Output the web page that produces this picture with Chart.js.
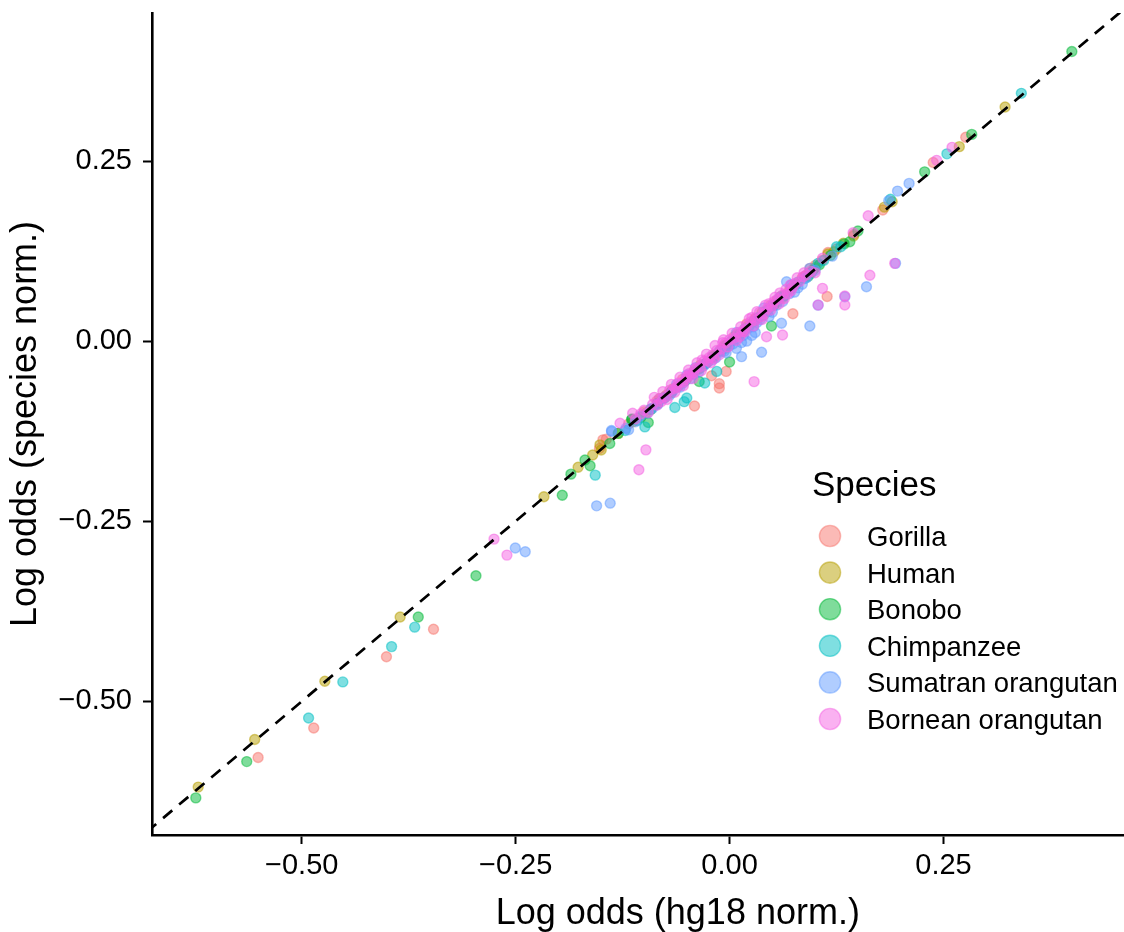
<!DOCTYPE html>
<html>
<head>
<meta charset="utf-8">
<title>Log odds: species vs hg18 normalisation</title>
<script src="https://cdn.jsdelivr.net/npm/chart.js@4.4.1/dist/chart.umd.min.js"></script>
<style>
  html, body { margin: 0; padding: 0; background: #fff; overflow: hidden; }
  #wrap { width: 1210px; height: 932px; }
</style>
</head>
<body>
<div id="wrap"><canvas id="plot" width="1210" height="932"></canvas></div>
<script>
const speciesNames = ["Gorilla", "Human", "Bonobo", "Chimpanzee", "Sumatran orangutan", "Bornean orangutan"];
const speciesColors = ["248,118,109", "183,159,0", "0,186,56", "0,191,196", "97,156,255", "245,100,227"];

const xTickValues = [-0.5, -0.25, 0, 0.25];
const xTickLabels = ["\u22120.50", "\u22120.25", "0.00", "0.25"];
const yTickValues = [-0.5, -0.25, 0, 0.25];
const yTickLabels = ["\u22120.50", "\u22120.25", "0.00", "0.25"];

// [hg18 norm, species norm]
const gorilla = [
  [0.276, 0.283], [0.238, 0.248], [0.179, 0.182], [0.145, 0.148], [0.115, 0.123], [0.094, 0.101],
  [0.114, 0.062], [0.074, 0.038], [-0.004, -0.042], [-0.012, -0.059], [-0.012, -0.065], [-0.021, -0.048],
  [-0.041, -0.090], [-0.144, -0.136], [-0.148, -0.137], [-0.152, -0.149], [-0.346, -0.400], [-0.401, -0.438],
  [-0.486, -0.537], [-0.551, -0.578],
  [0.085, 0.088], [0.062, 0.060], [0.048, 0.050], [0.030, 0.032], [0.015, 0.012], [0.005, 0.006],
  [-0.010, -0.012], [-0.025, -0.028], [-0.040, -0.040], [-0.055, -0.053], [-0.070, -0.072], [-0.085, -0.083],
  [-0.100, -0.098], [-0.118, -0.115], [0.100, 0.105], [0.125, 0.128], [0.040, 0.036], [0.020, 0.024],
  [-0.005, -0.010], [-0.032, -0.036], [0.070, 0.071], [0.092, 0.094], [0.056, 0.054], [-0.018, -0.022],
  [-0.062, -0.064], [0.108, 0.112]
];
const human = [
  [0.322, 0.325], [0.2685, 0.270], [0.190, 0.1935], [0.181, 0.186], [0.133, 0.136], [0.115, 0.121],
  [-0.1515, -0.144], [-0.150, -0.151], [-0.177, -0.175], [-0.217, -0.216], [-0.385, -0.383], [-0.473, -0.472],
  [-0.555, -0.553], [-0.621, -0.619],
  [0.145, 0.146], [0.100, 0.102], [0.088, 0.090], [0.072, 0.073], [0.055, 0.056], [0.038, 0.040],
  [0.022, 0.021], [0.008, 0.009], [-0.006, -0.006], [-0.018, -0.020], [-0.034, -0.033], [-0.050, -0.052],
  [-0.066, -0.066], [-0.082, -0.080], [-0.098, -0.100], [-0.113, -0.112], [-0.130, -0.128], [-0.160, -0.158],
  [0.094, 0.095], [0.064, 0.063], [0.030, 0.030], [-0.042, -0.043], [-0.074, -0.075], [0.122, 0.124]
];
const bonobo = [
  [0.400, 0.402], [0.283, 0.287], [0.228, 0.235], [0.150, 0.153], [0.1405, 0.138], [0.049, 0.021],
  [0.000, -0.029], [-0.0355, -0.056], [-0.095, -0.113], [-0.1145, -0.109], [-0.130, -0.128], [-0.169, -0.165],
  [-0.163, -0.173], [-0.1854, -0.1846], [-0.1955, -0.214], [-0.2964, -0.3257], [-0.3638, -0.383],
  [-0.5643, -0.5836], [-0.6238, -0.634], [-0.114, -0.108],
  [0.118, 0.119], [0.105, 0.106], [0.092, 0.090], [0.078, 0.079], [0.060, 0.062], [0.044, 0.043],
  [0.028, 0.027], [0.012, 0.010], [-0.004, -0.006], [-0.020, -0.022], [-0.036, -0.038], [-0.052, -0.055],
  [-0.068, -0.070], [-0.084, -0.086], [-0.104, -0.106], [-0.140, -0.142], [0.098, 0.099], [0.052, 0.050],
  [-0.028, -0.031], [-0.076, -0.078], [-0.092, -0.095], [0.134, 0.135]
];
const chimpanzee = [
  [0.341, 0.344], [0.254, 0.260], [0.188, 0.197], [0.125, 0.131], [0.1035, 0.108], [-0.015, -0.042],
  [-0.029, -0.058], [-0.050, -0.079], [-0.053, -0.084], [-0.064, -0.092], [-0.099, -0.119], [-0.157, -0.186],
  [-0.368, -0.397], [-0.395, -0.424], [-0.452, -0.473], [-0.492, -0.523],
  [0.130, 0.131], [0.110, 0.112], [0.095, 0.094], [0.080, 0.082], [0.064, 0.063], [0.050, 0.049],
  [0.034, 0.033], [0.018, 0.017], [0.002, 0.000], [-0.012, -0.014], [-0.028, -0.031], [-0.044, -0.046],
  [-0.060, -0.063], [-0.076, -0.079], [-0.092, -0.094], [-0.108, -0.110], [-0.122, -0.124], [0.088, 0.087],
  [0.042, 0.041], [-0.036, -0.039], [-0.068, -0.072], [-0.084, -0.087]
];
const sumatran = [
  [0.2098, 0.219], [0.1963, 0.2083], [0.186, 0.195], [0.194, 0.108], [0.160, 0.0756], [0.1347, 0.0617],
  [0.1035, 0.050], [0.0938, 0.0211], [0.0607, 0.0248], [0.0374, -0.0154], [0.014, -0.0215], [0.0666, 0.0825],
  [0.0938, 0.101], [-0.138, -0.124], [-0.1379, -0.1255], [-0.1211, -0.1208], [-0.1554, -0.2286],
  [-0.1395, -0.2249], [-0.2504, -0.2872], [-0.2388, -0.2924],
  [0.080, 0.074], [0.070, 0.066], [0.055, 0.050], [0.045, 0.041], [0.032, 0.026], [0.022, 0.018],
  [0.010, 0.004], [0.000, -0.006], [-0.010, -0.015], [-0.020, -0.026], [-0.030, -0.034], [-0.042, -0.046],
  [-0.054, -0.058], [-0.066, -0.069], [-0.078, -0.080], [-0.090, -0.093], [-0.104, -0.104], [0.008, 0.012],
  [-0.050, -0.047], [0.040, 0.046], [0.100, 0.098], [0.120, 0.118], [0.014, -0.002], [0.026, 0.008],
  [-0.004, -0.016], [0.085, 0.079], [0.076, 0.068], [0.062, 0.055], [0.050, 0.040], [0.036, 0.030],
  [0.028, 0.020], [0.016, 0.008], [0.004, -0.004], [-0.006, -0.014], [-0.016, -0.023], [-0.026, -0.030],
  [-0.036, -0.043], [-0.046, -0.052], [-0.058, -0.064], [-0.070, -0.075], [-0.084, -0.088], [-0.096, -0.100],
  [-0.110, -0.112], [-0.118, -0.123], [0.090, 0.088], [0.072, 0.078], [0.058, 0.060], [-0.062, -0.060],
  [-0.040, -0.037], [0.046, 0.034], [0.020, 0.000], [0.008, -0.010], [0.030, 0.012]
];
const bornean = [
  [0.260, 0.269], [0.242, 0.251], [0.162, 0.174], [0.1444, 0.1505], [0.1086, 0.115], [0.086, 0.0895],
  [0.0743, 0.0756], [0.193, 0.108], [0.164, 0.0914], [0.1086, 0.0733], [0.1347, 0.0502], [0.1035, 0.0502],
  [0.0432, 0.0062], [0.0619, 0.0086], [0.0287, -0.0562], [-0.0978, -0.1509], [-0.106, -0.1786],
  [-0.128, -0.114], [-0.1133, -0.100], [-0.2753, -0.2748], [-0.2602, -0.297], [0.1347, 0.0627],
  [0.090, 0.092], [0.082, 0.083], [0.076, 0.080], [0.068, 0.066], [0.062, 0.064], [0.056, 0.058],
  [0.050, 0.049], [0.046, 0.052], [0.040, 0.038], [0.035, 0.040], [0.030, 0.029], [0.025, 0.027],
  [0.020, 0.022], [0.015, 0.013], [0.010, 0.012], [0.005, 0.004], [0.000, 0.002], [-0.005, -0.003],
  [-0.010, -0.011], [-0.015, -0.013], [-0.020, -0.019], [-0.025, -0.027], [-0.030, -0.028], [-0.035, -0.036],
  [-0.040, -0.038], [-0.045, -0.047], [-0.050, -0.049], [-0.055, -0.057], [-0.060, -0.058], [-0.065, -0.066],
  [-0.070, -0.068], [-0.075, -0.077], [-0.082, -0.080], [-0.090, -0.088], [-0.100, -0.096], [0.072, 0.070],
  [0.058, 0.052], [0.044, 0.045], [0.012, 0.006], [-0.018, -0.024], [-0.042, -0.044], [-0.062, -0.064],
  [0.026, 0.033], [-0.008, -0.002], [-0.032, -0.026], [0.066, 0.072], [0.038, 0.030], [-0.052, -0.054],
  [0.087, 0.095], [0.079, 0.088], [0.071, 0.078], [0.064, 0.059], [0.059, 0.067], [0.053, 0.061],
  [0.048, 0.043], [0.042, 0.050], [0.037, 0.034], [0.032, 0.041], [0.028, 0.021], [0.023, 0.031],
  [0.018, 0.013], [0.013, 0.020], [0.008, 0.001], [0.003, 0.011], [-0.002, -0.008], [-0.007, 0.002],
  [-0.012, -0.019], [-0.017, -0.006], [-0.022, -0.030], [-0.027, -0.018], [-0.033, -0.041], [-0.038, -0.030],
  [-0.043, -0.052], [-0.048, -0.040], [-0.054, -0.062], [-0.058, -0.050], [-0.064, -0.071], [-0.068, -0.060],
  [-0.073, -0.081], [-0.078, -0.070], [-0.085, -0.089], [-0.088, -0.078], [-0.095, -0.099], [-0.104, -0.101],
  [-0.110, -0.108], [0.095, 0.097], [0.100, 0.095], [0.052, 0.055], [0.017, 0.016], [-0.024, -0.023],
  [-0.047, -0.045], [-0.080, -0.084]
];
const allSeries = [gorilla, human, bonobo, chimpanzee, sumatran, bornean];

const FONT = '"Liberation Sans", Arial, Helvetica, sans-serif';

function toXY(pairs) {
  return pairs.map((p) => ({ x: p[0], y: p[1] }));
}

const datasets = [
  {
    label: "y = x",
    data: [{ x: -1, y: -1 }, { x: 1, y: 1 }],
    showLine: true,
    borderColor: "#000",
    borderWidth: 2.7,
    borderDash: [12, 9],
    pointRadius: 0,
    order: 0,
  },
];
allSeries.forEach((series, i) => {
  datasets.push({
    label: speciesNames[i],
    data: toXY(series),
    backgroundColor: "rgba(" + speciesColors[i] + ",0.5)",
    borderColor: "rgba(" + speciesColors[i] + ",0.5)",
    pointRadius: 5,
    pointBorderWidth: 1.4,
    order: allSeries.length - i,
  });
});

// ggplot style legend sitting inside the panel
const speciesLegend = {
  id: "speciesLegend",
  afterDraw(chart) {
    const ctx = chart.ctx;
    ctx.save();
    ctx.fillStyle = "#000";
    ctx.textAlign = "left";
    ctx.textBaseline = "alphabetic";
    ctx.font = "35px " + FONT;
    ctx.fillText("Species", 812, 496);
    ctx.font = "27.5px " + FONT;
    speciesNames.forEach((name, i) => {
      const cy = 536 + i * 36.6;
      ctx.beginPath();
      ctx.arc(830, cy, 10.6, 0, Math.PI * 2);
      ctx.fillStyle = "rgba(" + speciesColors[i] + ",0.5)";
      ctx.fill();
      ctx.lineWidth = 1.4;
      ctx.strokeStyle = "rgba(" + speciesColors[i] + ",0.5)";
      ctx.stroke();
      ctx.fillStyle = "#000";
      ctx.fillText(name, 867, cy + 10);
    });
    ctx.restore();
  },
};

new Chart(document.getElementById("plot"), {
  type: "scatter",
  data: { datasets: datasets },
  plugins: [speciesLegend],
  options: {
    responsive: false,
    animation: false,
    layout: { padding: { left: 0, right: 6, top: 13, bottom: 0 } },
    plugins: {
      legend: { display: false },
      tooltip: { enabled: false },
    },
    scales: {
      x: {
        type: "linear",
        min: -0.675,
        max: 0.554,
        afterBuildTicks: (s) => {
          s.ticks = xTickValues.map((v) => ({ value: v }));
        },
        afterFit: (s) => {
          s.height = 97;
          s.paddingLeft = 0;
          s.paddingRight = 0;
        },
        border: { display: true, color: "#000", width: 2.6 },
        grid: { drawOnChartArea: false, drawTicks: true, tickLength: 9, tickWidth: 2, tickColor: "#000" },
        ticks: {
          color: "#000",
          font: { family: FONT, size: 29 },
          padding: 5,
          maxRotation: 0,
          callback: (v) => xTickLabels[xTickValues.indexOf(v)],
        },
        title: {
          display: true,
          text: "Log odds (hg18 norm.)",
          color: "#000",
          font: { family: FONT, size: 36, lineHeight: 1 },
          padding: { top: 0, bottom: 0 },
        },
      },
      y: {
        type: "linear",
        min: -0.6855,
        max: 0.4555,
        afterBuildTicks: (s) => {
          s.ticks = yTickValues.map((v) => ({ value: v }));
        },
        afterFit: (s) => {
          s.width = 152;
          s.paddingTop = 0;
          s.paddingBottom = 0;
        },
        border: { display: true, color: "#000", width: 2.6 },
        grid: { drawOnChartArea: false, drawTicks: true, tickLength: 9, tickWidth: 2, tickColor: "#000" },
        ticks: {
          color: "#000",
          font: { family: FONT, size: 29 },
          padding: 11,
          callback: (v) => yTickLabels[yTickValues.indexOf(v)],
        },
        title: {
          display: true,
          text: "Log odds (species norm.)",
          color: "#000",
          font: { family: FONT, size: 36, lineHeight: 1 },
          padding: { top: 8, bottom: 0 },
        },
      },
    },
  },
});
</script>
</body>
</html>
